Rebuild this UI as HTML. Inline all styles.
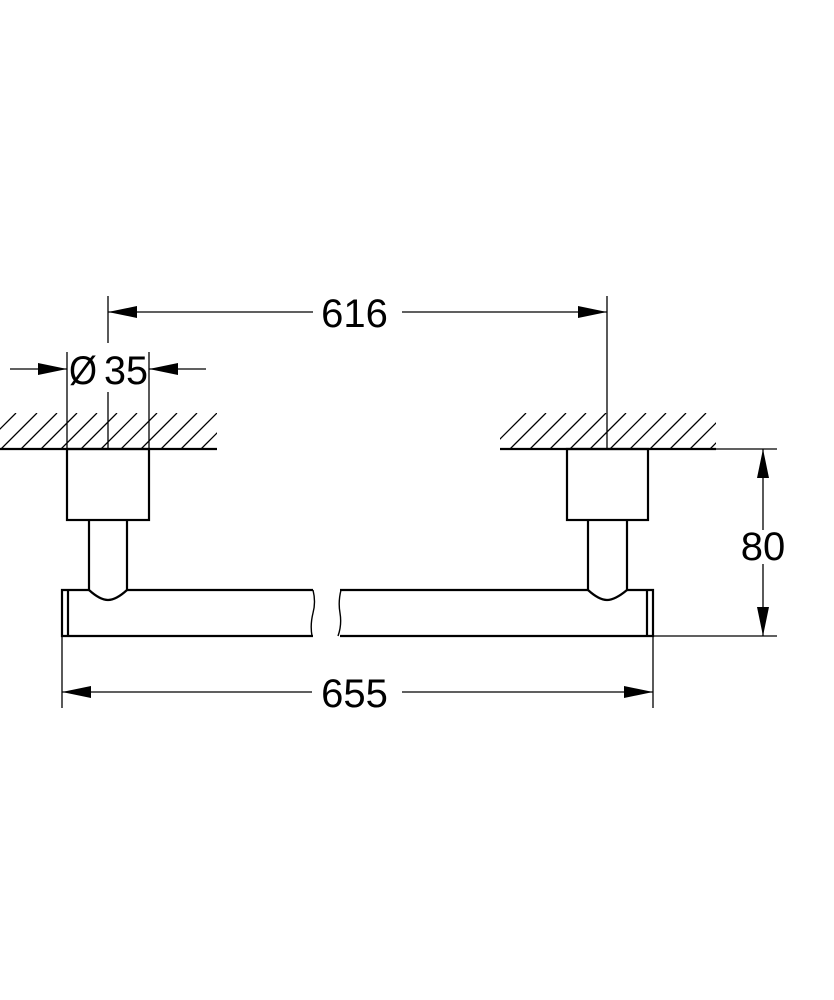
<!DOCTYPE html>
<html><head><meta charset="utf-8"><style>
html,body{margin:0;padding:0;background:#fff;}
svg{display:block;}
text{font-family:"Liberation Sans",sans-serif;fill:#000;}
</style></head><body>
<svg width="834" height="1000" viewBox="0 0 834 1000" xmlns="http://www.w3.org/2000/svg">
<defs>
<clipPath id="hl"><rect x="0" y="413" width="217" height="36"/></clipPath>
<clipPath id="hr"><rect x="500" y="413" width="216" height="36"/></clipPath>
</defs>
<g stroke="#000" fill="none">
<g clip-path="url(#hl)" stroke-width="1.3">
<path d="M-20,449 l36,-36 M1,449 l36,-36 M21,449 l36,-36 M41,449 l36,-36 M61,449 l36,-36 M81,449 l36,-36 M101,449 l36,-36 M121,449 l36,-36 M141,449 l36,-36 M161,449 l36,-36 M181,449 l36,-36 M201,449 l36,-36"/>
</g>
<g clip-path="url(#hr)" stroke-width="1.3">
<path d="M490,449 l36,-36 M510,449 l36,-36 M530,449 l36,-36 M550,449 l36,-36 M570,449 l36,-36 M590,449 l36,-36 M610,449 l36,-36 M630,449 l36,-36 M650,449 l36,-36 M670,449 l36,-36 M690,449 l36,-36 M710,449 l36,-36"/>
</g>
<line x1="0" y1="449" x2="217" y2="449" stroke-width="2.2"/>
<line x1="500" y1="449" x2="716" y2="449" stroke-width="2.2"/>

<rect x="67" y="449" width="82" height="71" stroke-width="2.2"/>
<path d="M89,520 V590 Q100,600 108,600 Q116,600 127,590 V520" stroke-width="2.2"/>
<path d="M127,590 H313 M89,590 H62 V636 H313 M68,590 V636" stroke-width="2.2"/>
<path d="M313,590 q3,12 0,23 q-3,12 -1,23" stroke-width="1.4"/>
<rect x="567" y="449" width="81" height="71" stroke-width="2.2"/>
<path d="M588,520 V590 Q599,600 607,600 Q615,600 627,590 V520" stroke-width="2.2"/>
<path d="M588,590 H340 M627,590 H653 V636 H340 M647,590 V636" stroke-width="2.2"/>
<path d="M341,590 q-3,12 -1,23 q2,12 -2,23" stroke-width="1.4"/>

<g stroke-width="1.3">
<path d="M108,296 V343 M108,392 V449"/>
<path d="M607,296 V449"/>
<path d="M67,352 V449 M149,352 V449"/>
<path d="M716,449 H777 M653,636 H777"/>
<path d="M62,590 V708 M653,636 V708"/>
<path d="M108,312 H313 M402,312 H607"/>
<path d="M10,369 H67 M149,369 H206"/>
<path d="M763,449 V530 M763,564 V636"/>
<path d="M62,692 H312 M402,692 H653"/>
</g>
</g>
<g fill="#000">
<polygon points="108,312 137,306 137,318"/>
<polygon points="607,312 578,306 578,318"/>
<polygon points="67,369 38,363 38,375"/>
<polygon points="149,369 178,363 178,375"/>
<polygon points="763,449 757,478 769,478"/>
<polygon points="763,636 757,607 769,607"/>
<polygon points="62,692 91,686 91,698"/>
<polygon points="653,692 624,686 624,698"/>
</g>
<text x="354.5" y="327" font-size="40" text-anchor="middle">616</text>
<text x="69" y="384" font-size="40" textLength="28" lengthAdjust="spacingAndGlyphs">Ø</text>
<text x="104" y="384" font-size="40" textLength="44" lengthAdjust="spacingAndGlyphs">35</text>
<text x="763" y="560" font-size="40" text-anchor="middle">80</text>
<text x="354.5" y="707" font-size="40" text-anchor="middle">655</text>
</svg>
</body></html>
